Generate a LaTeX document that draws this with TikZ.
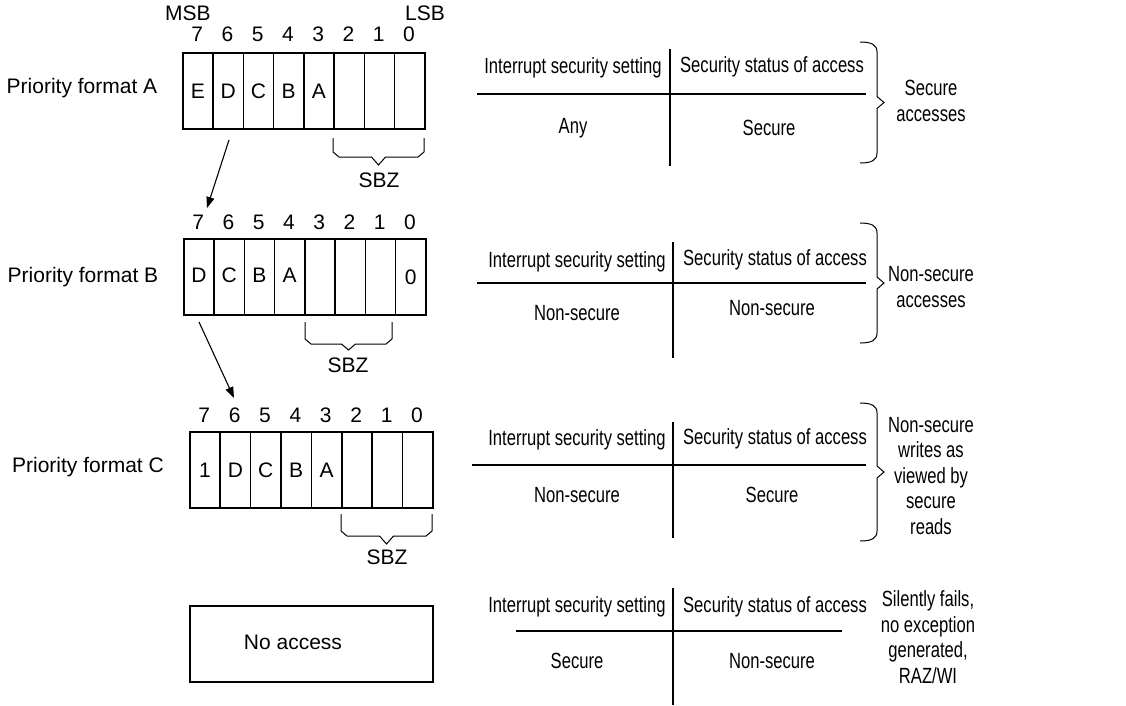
\documentclass[tikz,border=0pt]{standalone}
\usepackage{fontspec}
\setmainfont{Liberation Sans}
\newfontfamily\narrowsans[FakeStretch=0.755]{Liberation Sans}
\usetikzlibrary{arrows.meta}

% SBZ bracket under the low bits: {x-left}{x-right}{top}{level}{tip}
\newcommand\sbzbrace[5]{%
  \draw[bracketline] (#1,#3) -- (#1,#4-5) -- (#1+6,#4) -- ({(#1+#2)/2-7},#4)
    -- ({(#1+#2)/2},#5) -- ({(#1+#2)/2+7},#4) -- (#2-6,#4) -- (#2,#4-5) -- (#2,#3);}
% Tall curly brace to the right of a table: {top}{bottom}
\newcommand\sidebrace[2]{%
  \draw[bracketline] (860,#1) .. controls (872,#1) and (877,#1+3) .. (877,#1+10)
    -- (877,{(#1+#2)/2-6}) -- (884,{(#1+#2)/2}) -- (877,{(#1+#2)/2+6})
    -- (877,#2-10) .. controls (877,#2-3) and (872,#2) .. (860,#2);}

\begin{document}
\begin{tikzpicture}[x=1pt,y=-1pt,
  every node/.style={font=\fontsize{21}{25}\selectfont, inner sep=0pt},
  cell/.style={draw, line width=1.6pt, minimum width=30.25pt, minimum height=76pt,
               inner sep=0pt, anchor=north west},
  bitno/.style={anchor=center},
  bracketline/.style={line width=1pt},
  conn/.style={line width=1.1pt, -{Triangle[length=11pt,width=8pt]}},
  tabline/.style={line width=1.4pt},
  tabtext/.style={font=\narrowsans\fontsize{22}{26}\selectfont},
  note/.style={font=\narrowsans\fontsize{22}{25.5}\selectfont, align=center}]
\useasboundingbox (0,0) rectangle (1126,705);

% ---------- Priority format A ----------
\node (labA) at (82,88) {Priority format A};
\node (msb) at (188,13) {MSB};
\node (lsb) at (425,13) {LSB};
\foreach \i/\b/\t in {0/7/E,1/6/D,2/5/C,3/4/B,4/3/A,5/2/,6/1/,7/0/} {
  \node[cell] (A\b) at (182+\i*30.25,52) {\t};
  \node[bitno] (Ab\b) at (182+\i*30.25+15.1,34) {\b};
}
\sbzbrace{333}{424}{138}{157}{165}
\node (sbzA) at (379,180) {SBZ};

% ---------- Priority format B ----------
\node (labB) at (83,277) {Priority format B};
\foreach \i/\b/\t in {0/7/D,1/6/C,2/5/B,3/4/A,4/3/,5/2/,6/1/} {
  \node[cell] (B\b) at (183+\i*30.25,238) {\raisebox{3pt}{\t}};
  \node[bitno] (Bb\b) at (183+\i*30.25+15.1,222) {\b};
}
\node[cell] (B0) at (183+7*30.25,238) {\raisebox{-2pt}{0}};
\node[bitno] (Bb0) at (183+7*30.25+15.1,222) {0};
\sbzbrace{305}{392}{322}{344}{350}
\node (sbzB) at (348,365) {SBZ};

% ---------- Priority format C ----------
\node (labC) at (88,467) {Priority format C};
\foreach \i/\b/\t in {0/7/1,1/6/D,2/5/C,3/4/B,4/3/A,5/2/,6/1/,7/0/} {
  \node[cell, minimum width=30.4pt] (C\b) at (189+\i*30.4,431) {\t};
  \node[bitno] (Cb\b) at (189+\i*30.4+15.2,415) {\b};
}
\sbzbrace{341}{432}{514}{536}{544}
\node (sbzC) at (387,557) {SBZ};

% ---------- No access ----------
\node[draw, line width=1.6pt, minimum width=243pt, minimum height=76pt,
      anchor=north west] (noacc) at (189,605) {};
\node (noacctxt) at (293,642) {No access};

% ---------- format-to-format arrows ----------
\coordinate (aFrom) at (229,140);
\coordinate (aTo)   at (207,208);
\coordinate (bFrom) at (199,322);
\coordinate (bTo)   at (234,398);
\draw[conn] (aFrom) -- (aTo);
\draw[conn] (bFrom) -- (bTo);

% ---------- access tables ----------
% Secure accesses
\node[tabtext] (t1h1) at (573,68) {Interrupt security setting};
\node[tabtext] (t1h2) at (772,67) {Security status of access};
\draw[tabline] (477,94) -- (866,94);
\draw[tabline] (670,49) -- (670,166);
\node[tabtext] (t1c1) at (573,128) {Any};
\node[tabtext] (t1c2) at (769,128) {Secure};
\sidebrace{42}{163}
\node[note] (t1n) at (931,101) {Secure\\accesses};

% Non-secure accesses
\node[tabtext] (t2h1) at (577,262) {Interrupt security setting};
\node[tabtext] (t2h2) at (775,260) {Security status of access};
\draw[tabline] (477,283) -- (866,283);
\draw[tabline] (673,242) -- (673,358);
\node[tabtext] (t2c1) at (577,313) {Non-secure};
\node[tabtext] (t2c2) at (772,308) {Non-secure};
\sidebrace{223}{343}
\node[note] (t2n) at (931,287) {Non-secure\\accesses};

% Non-secure writes viewed by secure reads
\node[tabtext] (t3h1) at (577,440) {Interrupt security setting};
\node[tabtext] (t3h2) at (775,439) {Security status of access};
\draw[tabline] (472,465) -- (866,465);
\draw[tabline] (673,422) -- (673,538);
\node[tabtext] (t3c1) at (577,495) {Non-secure};
\node[tabtext] (t3c2) at (772,495) {Secure};
\sidebrace{403}{541}
\node[note] (t3n) at (931,476) {Non-secure\\writes as\\viewed by\\secure\\reads};

% No access
\node[tabtext] (t4h1) at (577,607) {Interrupt security setting};
\node[tabtext] (t4h2) at (775,607) {Security status of access};
\draw[tabline] (516,631) -- (842,631);
\draw[tabline] (673,588) -- (673,705);
\node[tabtext] (t4c1) at (577,661) {Secure};
\node[tabtext] (t4c2) at (772,661) {Non-secure};
\node[note] (t4n) at (928,637) {Silently fails,\\no exception\\generated,\\RAZ/WI};
\end{tikzpicture}
\end{document}
